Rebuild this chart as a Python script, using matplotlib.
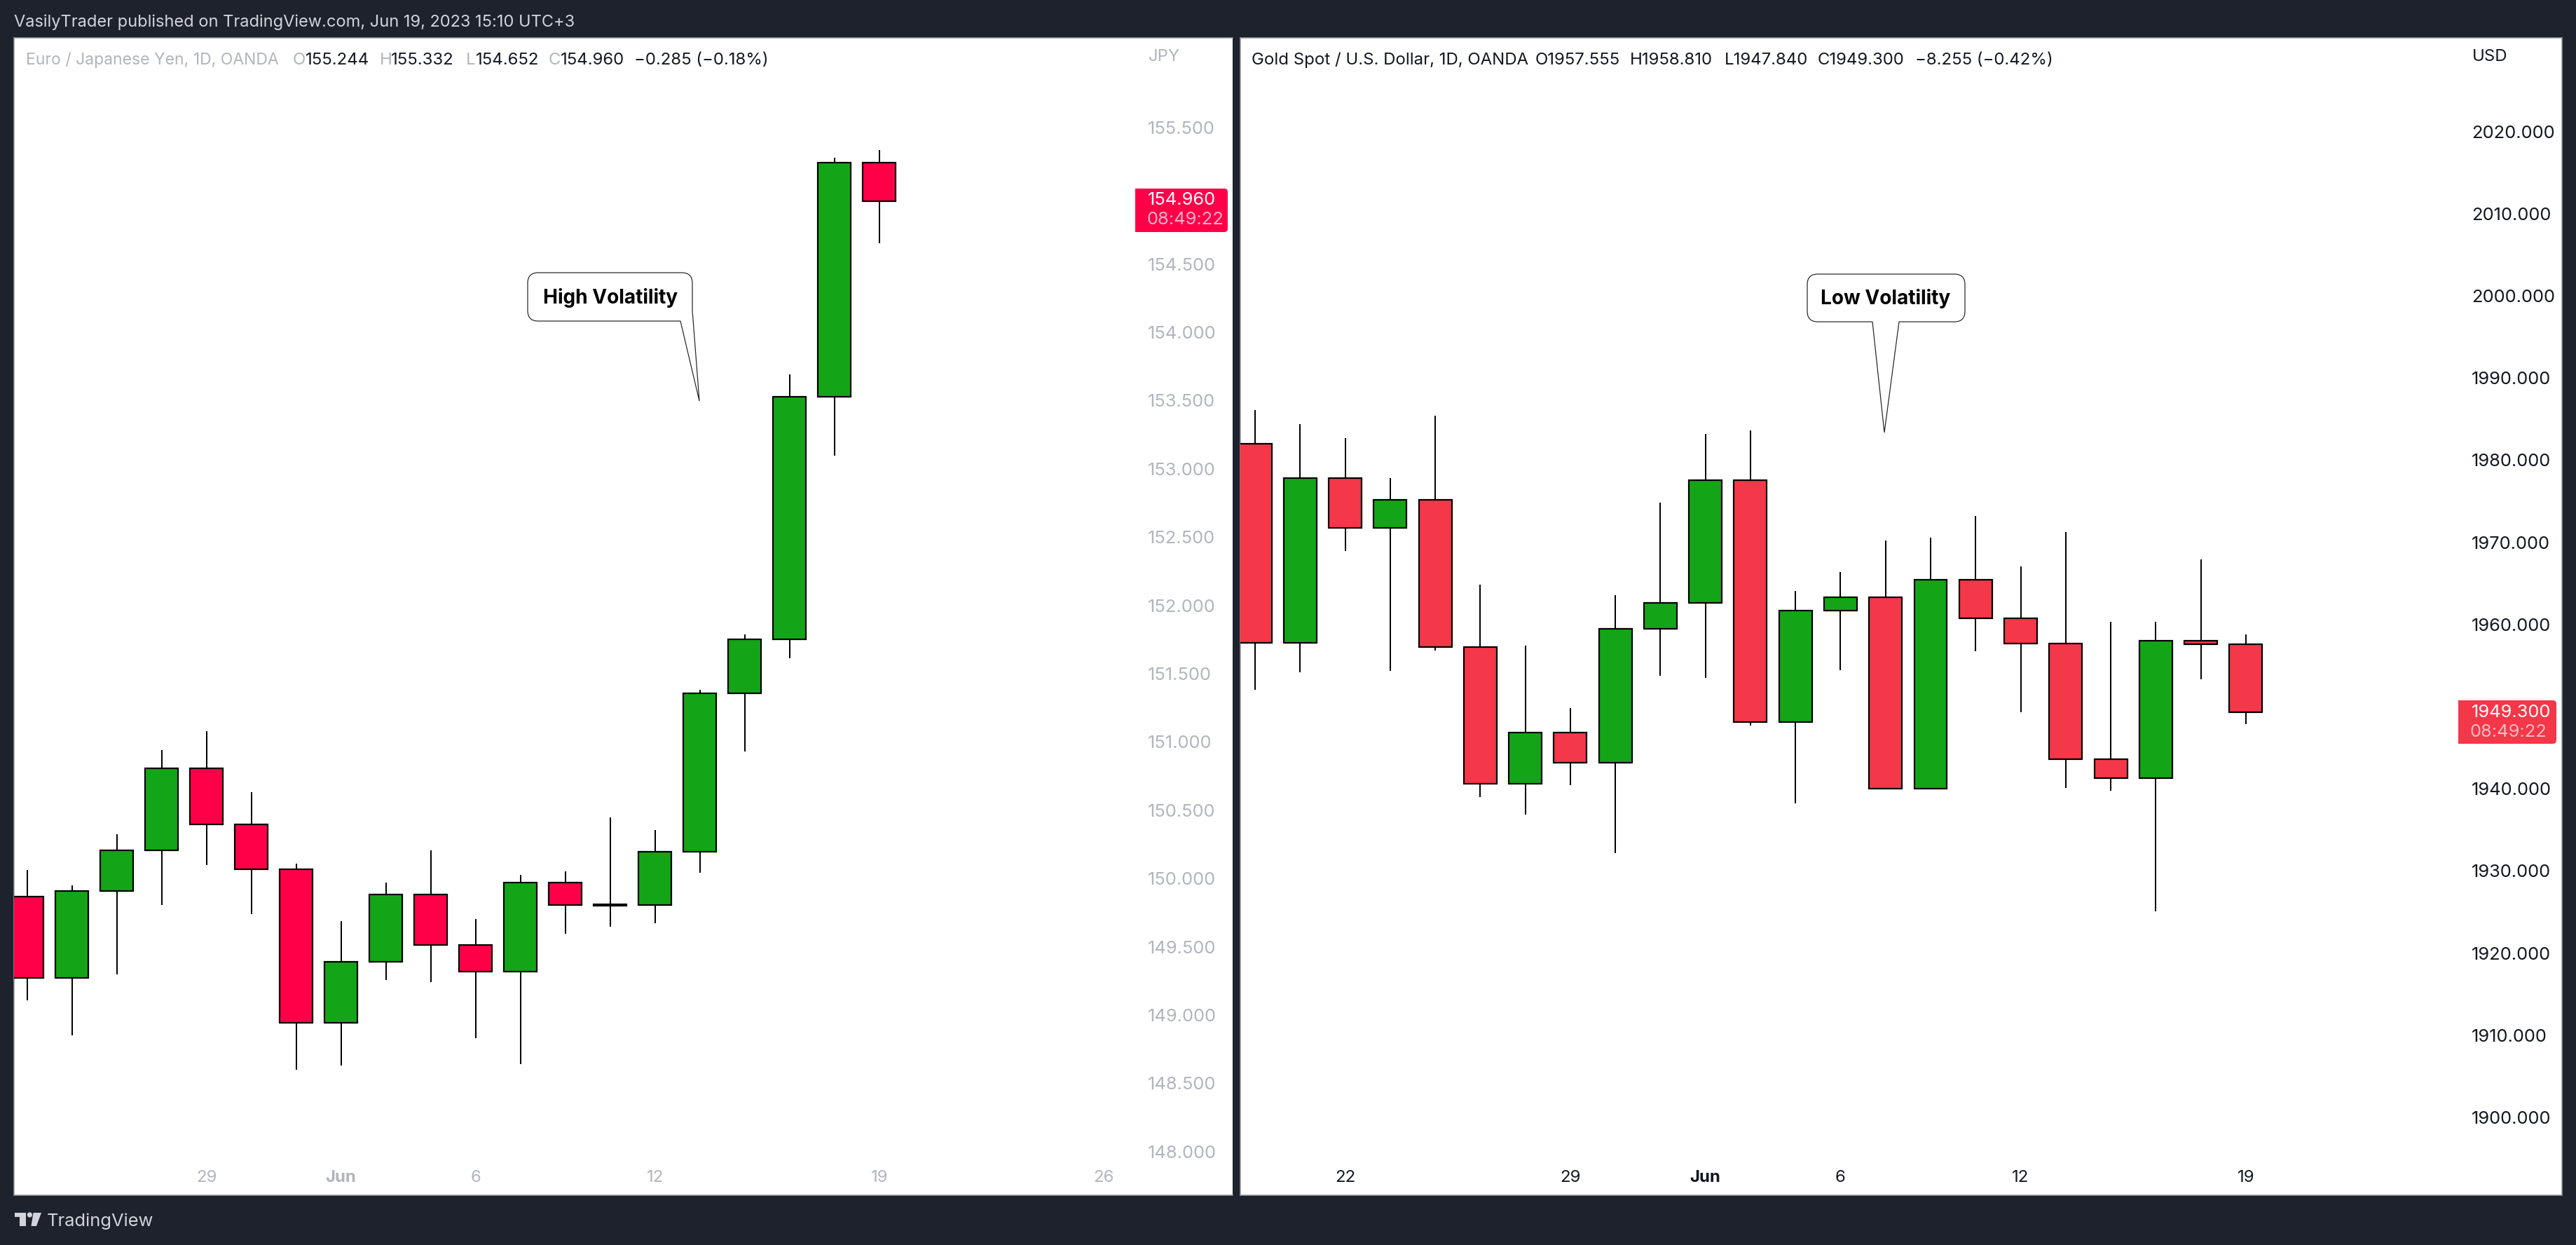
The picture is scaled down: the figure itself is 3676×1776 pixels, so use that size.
#!/usr/bin/env python3
# side by side daily candles, EUR/JPY against gold, TradingView snapshot look

import matplotlib
matplotlib.use("Agg")
import matplotlib.pyplot as plt
from matplotlib.patches import PathPatch, Polygon, Circle
from matplotlib.path import Path

plt.rcParams['font.family'] = ['Inter', 'DejaVu Sans']

# EUR/JPY daily candles
eur_open = [149.869, 149.272, 149.910, 150.207, 150.808, 150.394, 150.065, 148.943, 149.392, 149.880,
            149.513, 149.318, 149.972, 149.810, 149.805, 150.198, 151.358, 151.751, 153.527, 155.244]
eur_high = [150.062, 149.949, 150.324, 150.940, 151.079, 150.633, 150.108, 149.687, 149.970, 150.207,
            149.703, 150.026, 150.052, 150.447, 150.355, 151.381, 151.787, 153.691, 155.279, 155.332]
eur_low = [149.107, 148.851, 149.298, 149.805, 150.099, 149.739, 148.600, 148.630, 149.256, 149.242,
           148.830, 148.642, 149.595, 149.646, 149.673, 150.043, 150.930, 151.612, 153.096, 154.652]
eur_close = [149.272, 149.910, 150.207, 150.808, 150.394, 150.065, 148.943, 149.392, 149.880, 149.513,
             149.318, 149.972, 149.805, 149.800, 150.198, 151.358, 151.751, 153.527, 155.244, 154.960]

# gold daily candles
xau_open = [1982.00, 1957.73, 1977.82, 1971.75, 1975.12, 1957.24, 1940.61, 1946.85, 1943.15, 1959.50, 1962.58, 1977.51,
            1948.09, 1961.71, 1963.26, 1939.98, 1965.44, 1960.74, 1957.67, 1943.56, 1941.29, 1957.99, 1957.555]
xau_high = [1986.07, 1984.38, 1982.67, 1977.82, 1985.40, 1964.84, 1957.43, 1949.82, 1963.58, 1974.82, 1983.18, 1983.61,
            1964.07, 1966.37, 1970.21, 1970.55, 1973.22, 1967.07, 1971.25, 1960.32, 1960.32, 1967.91, 1958.81]
xau_low = [1952.03, 1954.17, 1968.94, 1954.36, 1956.80, 1939.00, 1936.86, 1940.45, 1932.16, 1953.73, 1953.49, 1947.72,
           1938.22, 1954.43, 1939.98, 1939.98, 1956.75, 1949.31, 1940.09, 1939.75, 1925.08, 1953.32, 1947.84]
xau_close = [1957.73, 1977.82, 1971.75, 1975.12, 1957.24, 1940.61, 1946.85, 1943.15, 1959.50, 1962.58, 1977.51, 1948.09,
             1961.71, 1963.26, 1939.98, 1965.44, 1960.74, 1957.67, 1943.56, 1941.29, 1957.99, 1957.55, 1949.30]

eur_price_ticks = [148.0, 148.5, 149.0, 149.5, 150.0, 150.5, 151.0, 151.5, 152.0, 152.5, 153.0, 153.5, 154.0, 154.5, 155.0, 155.5]
xau_price_ticks = [1900, 1910, 1920, 1930, 1940, 1950, 1960, 1970, 1980, 1990, 2000, 2010, 2020]

eur_date_pos = [4, 7, 10, 14, 19, 24]
eur_date_labels = ['29', 'Jun', '6', '12', '19', '26']
xau_date_pos = [2, 7, 10, 13, 17, 22]
xau_date_labels = ['22', '29', 'Jun', '6', '12', '19']

eur_legend = [('O', 418, 0), ('155.244', 436, 1), ('H', 542, 0),
              ('155.332', 558, 1), ('L', 665, 0), ('154.652', 679, 1), ('C', 783, 0), ('154.960', 800, 1),
              ('\u22120.285 (\u22120.18%)', 905, 1)]
xau_legend = [('Gold Spot / U.S. Dollar, 1D, OANDA', 1786, 1), ('O1957.555', 2191, 1), ('H1958.810', 2326, 1),
              ('L1947.840', 2461, 1), ('C1949.300', 2594, 1), ('\u22128.255 (\u22120.42%)', 2733, 1)]

DARK = '#1e222d'
GREY = '#b2b5be'
INK = '#131722'
GREEN = '#13a517'
W, H = 3676, 1776
PX = 72 / 100  # points per pixel at dpi 100


def panel(rect, xlim, ylim):
    x0, y0, x1, y1 = rect
    ax = fig.add_axes([x0 / W, 1 - y1 / H, (x1 - x0) / W, (y1 - y0) / H], zorder=1)
    ax.set_xlim(*xlim)
    ax.set_ylim(*ylim)
    for s in ax.spines.values():
        s.set_color('#9598a1')
        s.set_linewidth(1.5 * PX)
    return ax


def candles(ax, o, h, l, c, red, width):
    x = list(range(len(o)))
    colors = [GREEN if ci > oi else red for oi, ci in zip(o, c)]
    ax.vlines(x, l, h, color='black', lw=2 * PX, zorder=2)
    ax.bar(x, [ci - oi for oi, ci in zip(o, c)], bottom=o, width=width, color=colors,
           edgecolor='black', linewidth=2.2 * PX, zorder=3)


def scales(ax, ticks, fmt, dpos, dlabels, color, pad):
    ax.yaxis.tick_right()
    ax.set_yticks(ticks)
    ax.set_yticklabels([fmt % t for t in ticks], fontsize=25.5 * PX, color=color, ha='left')
    ax.tick_params(axis='y', length=0, pad=pad * PX)
    ax.set_xticks(dpos)
    ax.set_xticklabels(dlabels, fontsize=24 * PX, color=color)
    ax.tick_params(axis='x', length=0, pad=-36 * PX)
    for lab in ax.get_xticklabels():
        if lab.get_text() == 'Jun':
            lab.set_fontweight('bold')


def price_flag(x0, x1, y0, y1, color, price, clock, px, cx, clock_color):
    r = 5
    verts = [(x0, y0), (x1 - r, y0), (x1, y0), (x1, y0 + r), (x1, y1 - r), (x1, y1), (x1 - r, y1), (x0, y1), (x0, y0)]
    codes = [Path.MOVETO, Path.LINETO, Path.CURVE3, Path.CURVE3, Path.LINETO, Path.CURVE3, Path.CURVE3, Path.LINETO, Path.CLOSEPOLY]
    top.add_patch(PathPatch(Path(verts, codes), fc=color, ec='none'))
    top.text(px, (y0 + y1) / 2 - 14, price, color='white', fontsize=25.5 * PX, ha='left', va='center')
    top.text(cx, (y0 + y1) / 2 + 14, clock, color=clock_color, fontsize=25.5 * PX, ha='left', va='center')


def bubble(x0, y0, x1, y1, r, tail, round_br):
    verts = [(x0 + r, y0), (x1 - r, y0), (x1, y0), (x1, y0 + r)]
    codes = [Path.MOVETO, Path.LINETO, Path.CURVE3, Path.CURVE3]
    if round_br:
        verts += [(x1, y1 - r), (x1, y1), (x1 - r, y1)]
        codes += [Path.LINETO, Path.CURVE3, Path.CURVE3]
    verts += tail
    codes += [Path.LINETO] * len(tail)
    verts += [(x0 + r, y1), (x0, y1), (x0, y1 - r), (x0, y0 + r), (x0, y0), (x0 + r, y0), (x0 + r, y0)]
    codes += [Path.LINETO, Path.CURVE3, Path.CURVE3, Path.LINETO, Path.CURVE3, Path.CURVE3, Path.CLOSEPOLY]
    top.add_patch(PathPatch(Path(verts, codes), fc='white', ec='#222222', lw=1.2 * PX, joinstyle='miter'))


fig = plt.figure(figsize=(W / 100, H / 100), dpi=100, facecolor=DARK)

# x limits put candle 0 and the pane edges where they sit in the snapshot
ax1 = panel((20, 54, 1759, 1705), (-0.292, 26.88), (155.5 - (1705 - 181.7) / 194.8, 155.5 + (181.7 - 54) / 194.8))
ax2 = panel((1770, 54, 3656, 1705), (-0.327, 29.02), (2020 - (1705 - 187.5) / 11.72, 2020 + (187.5 - 54) / 11.72))
ax1.spines['right'].set_visible(False)

candles(ax1, eur_open, eur_high, eur_low, eur_close, '#ff0048', 0.734)
candles(ax2, xau_open, xau_high, xau_low, xau_close, '#f43749', 0.731)
scales(ax1, eur_price_ticks, '%.3f', eur_date_pos, eur_date_labels, GREY, -121)
scales(ax2, xau_price_ticks, '%.3f', xau_date_pos, xau_date_labels, INK, -129)

top = fig.add_axes([0, 0, 1, 1], zorder=5)
top.set_xlim(0, W)
top.set_ylim(H, 0)
top.axis('off')

top.text(20, 32, 'VasilyTrader published on TradingView.com, Jun 19, 2023 15:10 UTC+3',
         color='#d1d4dc', fontsize=23.6 * PX, va='center')

top.text(37, 86, 'Euro / Japanese Yen, 1D, OANDA', color=GREY, fontsize=23 * PX, va='center')
for txt, x, dark in eur_legend:
    top.text(x, 86, txt, color=INK if dark else GREY, fontsize=24 * PX, va='center')
for txt, x, dark in xau_legend:
    top.text(x, 86, txt, color=INK, fontsize=24 * PX, va='center')

top.text(1639, 81, 'JPY', color=GREY, fontsize=24 * PX, va='center')
top.text(3528, 81, 'USD', color=INK, fontsize=24 * PX, va='center')

price_flag(1620, 1752, 269, 331, '#ff0048', '154.960', '08:49:22', 1638, 1637, '#ffb3c8')
price_flag(3508, 3648, 999, 1061, '#f43749', '1949.300', '08:49:22', 3527, 3525, '#fbbcc3')

bubble(753, 389, 988, 458, 15, [(988, 443), (998, 572), (971, 458)], False)
top.text(871, 425, 'High Volatility', color='black', fontsize=28 * PX, fontweight='bold', ha='center', va='center')
bubble(2579, 391, 2804, 459, 15, [(2710, 459), (2689, 617), (2672, 459)], True)
top.text(2691, 426, 'Low Volatility', color='black', fontsize=28 * PX, fontweight='bold', ha='center', va='center')

# logo
logo = '#d1d4dc'
top.add_patch(Polygon([(20.5, 1730), (36.6, 1730), (36.6, 1749), (27.7, 1749), (27.7, 1736), (20.5, 1736)], fc=logo, ec='none'))
top.add_patch(Circle((42.4, 1733), 3.6, fc=logo, ec='none'))
top.add_patch(Polygon([(47.5, 1730), (59, 1730), (52, 1749), (44.5, 1749)], fc=logo, ec='none'))
top.text(67, 1742, 'TradingView', color='#d1d4dc', fontsize=25.5 * PX, va='center')

fig.savefig('out.png', dpi=100, facecolor=DARK)
